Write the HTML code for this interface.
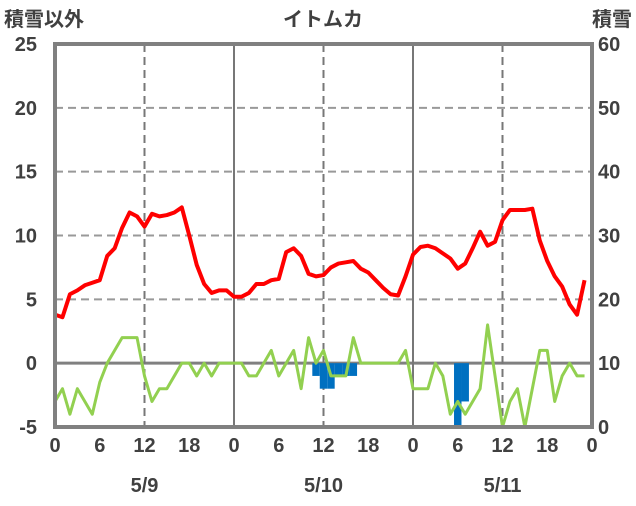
<!DOCTYPE html>
<html><head><meta charset="utf-8"><style>
body{margin:0;background:#fff;}
svg text{font-family:"Liberation Sans","Noto Sans CJK JP",sans-serif;fill:#404040;font-weight:bold;}
</style></head><body>
<svg width="636" height="501" id="c">
</svg>
<script>
const redValues=[3.8,3.6,5.4,5.7,6.1,6.3,6.5,8.4,9.0,10.6,11.8,11.5,10.7,11.7,11.5,11.6,11.8,12.2,10.0,7.7,6.2,5.5,5.7,5.7,5.2,5.2,5.5,6.2,6.2,6.5,6.6,8.7,9.0,8.4,7.0,6.8,6.9,7.5,7.8,7.9,8.0,7.4,7.1,6.5,5.9,5.4,5.3,6.8,8.5,9.1,9.2,9.0,8.6,8.2,7.4,7.8,9.0,10.3,9.2,9.5,11.2,12.0,12.0,12.0,12.1,9.6,8.0,6.8,6.0,4.6,3.8,6.5];
const greenValues=[-3,-2,-4,-2,-3,-4,-1.5,0,1,2,2,2,-1,-3,-2,-2,-1,0,0,-1,0,-1,0,0,0,0,-1,-1,0,1,-1,0,1,-2,2,0,1,-1,-1,-1,2,0,0,0,0,0,0,1,-2,-2,-2,0,-1,-4,-3,-4,-3,-2,3,-1,-5,-3,-2,-5,-2,1,1,-3,-1,0,-1,-1];
const barHours=[35,36,37,38,39,40,54,55];
const barValues=[-1,-2,-2,-1,-1,-1,-5,-3];
const snowValues=new Array(72).fill(0);
const leftTicks=[-5,0,5,10,15,20,25];
const rightTicks=[0,10,20,30,40,50,60];
const xTickLabels=["0","6","12","18","0","6","12","18","0","6","12","18","0"];
const dateLabels=["5/9","5/10","5/11"];
const L=55,R=592,T=44,B=427;
const x=h=>L+(R-L)*h/72;
const y=v=>B-(v+5)/30*(B-T);
const yr=v=>B-v/60*(B-T);
const svg=document.getElementById('c');
const NS='http://www.w3.org/2000/svg';
function mk(t,a,p){const e=document.createElementNS(NS,t);for(const k in a)e.setAttribute(k,a[k]);(p||svg).appendChild(e);return e;}
leftTicks.forEach(v=>{if(v===-5||v===25)return;
 const e=mk('line',{x1:L,x2:R,y1:y(v),y2:y(v),stroke:v===0?'#808080':'#999','stroke-width':v===0?3:2,'stroke-dasharray':v===0?'':'8 5'});
 
 });
for(let h=12;h<72;h+=12){const solid=h%24===0;
 const e=mk('line',{x1:x(h),x2:x(h),y1:T,y2:B,stroke:'#777','stroke-width':2,'stroke-dasharray':solid?'':'8 5'});
 
 }
barHours.forEach((h,i)=>{const w=(R-L)/72;
 const e=mk('rect',{x:x(h)-w/2,y:y(0),width:w,height:y(barValues[i])-y(0),fill:'#0070c0'});
 
 });
function line(vals,fn,col,w,name){const p=mk('polyline',{points:vals.map((v,i)=>x(i)+','+fn(v)).join(' '),fill:'none',stroke:col,'stroke-width':w,'stroke-linejoin':'round'});
 
 }
line(greenValues,y,'#92d050',3,'green-series-line');
line(redValues,y,'#ff0000',4,'red-series-line');
line(snowValues,yr,'#7030a0',3,'snow-depth-line');
const f=mk('rect',{x:L,y:T,width:R-L,height:B-T,fill:'none',stroke:'#808080','stroke-width':4});


leftTicks.forEach(v=>{const t=mk('text',{x:37,y:y(v)+7,'text-anchor':'end','font-size':20});t.textContent=v;
 
 });
rightTicks.forEach(v=>{const t=mk('text',{x:598,y:yr(v)+7,'font-size':20});t.textContent=v;
 
 });
xTickLabels.forEach((s,i)=>{const t=mk('text',{x:x(i*6),y:452,'text-anchor':'middle','font-size':20});t.textContent=s;
 
 });
dateLabels.forEach((s,i)=>{const t=mk('text',{x:x(12+i*24),y:492,'text-anchor':'middle','font-size':20});t.textContent=s;
 
 });
[["積雪以外",4,'start','left-axis-title'],["イトムカ",323,'middle','chart-title'],["積雪",632,'end','right-axis-title']].forEach(a=>{
 const t=mk('text',{x:a[1],y:26,'text-anchor':a[2],'font-size':20});t.textContent=a[0];
 
 });
</script>
</body></html>
